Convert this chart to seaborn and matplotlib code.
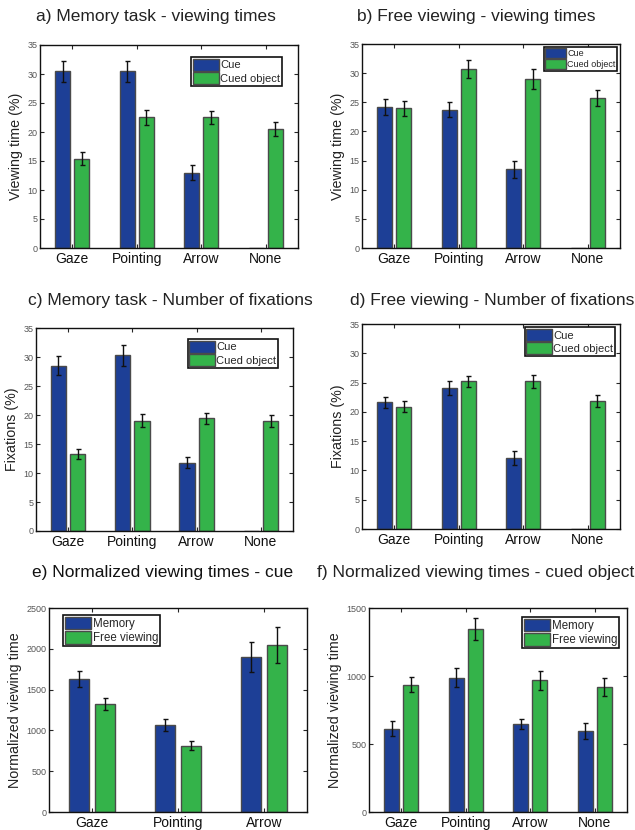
import numpy as np
import pandas as pd
import matplotlib
matplotlib.use("Agg")
import matplotlib.pyplot as plt
import seaborn as sns

# ---------------- data ----------------
cond4 = ["Gaze", "Pointing", "Arrow", "None"]
cond3 = ["Gaze", "Pointing", "Arrow"]

a_cue = [30.5, 30.5, 13.0, 0.0]
a_cue_err = [1.8, 1.8, 1.3, 0.0]
a_obj = [15.4, 22.5, 22.5, 20.5]
a_obj_err = [1.1, 1.3, 1.1, 1.2]

b_cue = [24.2, 23.7, 13.5, 0.0]
b_cue_err = [1.4, 1.3, 1.5, 0.0]
b_obj = [24.0, 30.7, 29.0, 25.7]
b_obj_err = [1.3, 1.5, 1.7, 1.4]

c_cue = [28.5, 30.3, 11.8, 0.0]
c_cue_err = [1.6, 1.8, 1.0, 0.0]
c_obj = [13.3, 19.0, 19.4, 19.0]
c_obj_err = [0.9, 1.1, 0.9, 1.0]

d_cue = [21.6, 24.0, 12.2, 0.0]
d_cue_err = [0.9, 1.2, 1.2, 0.0]
d_obj = [20.9, 25.2, 25.2, 21.8]
d_obj_err = [1.0, 1.0, 1.1, 1.0]

e_mem = [1634, 1070, 1900]
e_mem_err = [100, 75, 185]
e_free = [1319, 809, 2051]
e_free_err = [75, 55, 220]

f_mem = [613, 988, 645, 593]
f_mem_err = [55, 68, 36, 58]
f_free = [936, 1348, 968, 919]
f_free_err = [57, 80, 69, 65]

series_cue = ["Cue", "Cued object"]
series_task = ["Memory", "Free viewing"]

titles = [
    "a) Memory task - viewing times",
    "b) Free viewing - viewing times",
    "c) Memory task - Number of fixations",
    "d) Free viewing - Number of fixations",
    "e) Normalized viewing times - cue",
    "f) Normalized viewing times - cued object",
]

# ---------------- style ----------------
sns.set_theme(style="white")
plt.rcParams["font.family"] = ["Liberation Sans", "DejaVu Sans"]

BLUE = "#1d3f96"
GREEN = "#34b34a"

W, H = 635, 830
fig = plt.figure(figsize=(W / 100, H / 100), dpi=100)


def axes_px(l, r, t, b):
    return fig.add_axes([l / W, 1 - b / H, (r - l) / W, (b - t) / H])


def panel(ax, cats, v1, e1, v2, e2, names, ymax, yticks, ylabel,
          leg_loc, leg_anchor, leg_fs):
    df = pd.DataFrame({
        "cond": cats * 2,
        "series": [names[0]] * len(cats) + [names[1]] * len(cats),
        "value": list(v1) + list(v2),
    })
    sns.barplot(data=df, x="cond", y="value", hue="series",
                order=cats, hue_order=names,
                palette=[BLUE, GREEN], errorbar=None,
                width=0.6, gap=0.22, saturation=1,
                edgecolor="#4a4a4a", linewidth=1.0, ax=ax)
    for cont, errs in zip(ax.containers, [e1, e2]):
        xs, ys, es = [], [], []
        for p, e in zip(cont.patches, errs):
            if e > 0:
                xs.append(p.get_x() + p.get_width() / 2)
                ys.append(p.get_height())
                es.append(e)
        ax.errorbar(xs, ys, yerr=es, fmt="none", ecolor="#111111",
                    elinewidth=1.0, capsize=1.8, capthick=1.0, zorder=5)
    ax.set_xlim(-0.5, len(cats) - 0.5)
    ax.set_ylim(0, ymax)
    ax.set_yticks(yticks)
    ax.set_xlabel("")
    ax.set_ylabel(ylabel, fontsize=10.3, color="#222222", labelpad=3)
    ax.tick_params(axis="y", labelsize=6.5, labelcolor="#555555",
                   direction="in", length=3, right=True, left=True,
                   width=0.8, pad=2)
    ax.tick_params(axis="x", labelsize=10, labelcolor="#111111",
                   direction="in", length=3, top=True, bottom=True,
                   width=0.8, pad=3)
    for s in ax.spines.values():
        s.set_color("#111111")
        s.set_linewidth(1.0)
    handles, labels = ax.get_legend_handles_labels()
    if ax.get_legend() is not None:
        ax.get_legend().remove()
    leg = ax.legend(handles, labels, loc=leg_loc, bbox_to_anchor=leg_anchor,
                    fontsize=leg_fs, frameon=True, fancybox=False,
                    edgecolor="#111111", framealpha=1,
                    handlelength=2.3, handleheight=1.3, handletextpad=0.15,
                    labelspacing=0.12, borderpad=0.15, borderaxespad=0)
    leg.get_frame().set_linewidth(1.2)


yt35 = [0, 5, 10, 15, 20, 25, 30, 35]

ax_a = axes_px(40, 298, 45, 248)
panel(ax_a, cond4, a_cue, a_cue_err, a_obj, a_obj_err, series_cue, 35, yt35,
      "Viewing time (%)", "upper right", (0.938, 0.941), 8)

ax_b = axes_px(362, 620, 44, 248)
panel(ax_b, cond4, b_cue, b_cue_err, b_obj, b_obj_err, series_cue, 35, yt35,
      "Viewing time (%)", "upper right", (0.988, 0.985), 6.5)

ax_c = axes_px(36, 293, 328, 531)
panel(ax_c, cond4, c_cue, c_cue_err, c_obj, c_obj_err, series_cue, 35, yt35,
      "Fixations (%)", "upper right", (0.942, 0.946), 8)

ax_d = axes_px(362, 620, 324, 529)
panel(ax_d, cond4, d_cue, d_cue_err, d_obj, d_obj_err, series_cue, 35, yt35,
      "Fixations (%)", "upper right", (0.981, 0.985), 8)

ax_e = axes_px(49, 307, 608, 812)
panel(ax_e, cond3, e_mem, e_mem_err, e_free, e_free_err, series_task, 2500,
      [0, 500, 1000, 1500, 2000, 2500], "Normalized viewing time",
      "upper left", (0.054, 0.966), 8.3)

ax_f = axes_px(369, 627, 608, 812)
panel(ax_f, cond4, f_mem, f_mem_err, f_free, f_free_err, series_task, 1500,
      [0, 500, 1000, 1500], "Normalized viewing time",
      "upper right", (0.969, 0.956), 8.3)

# titles
title_pos = [(36, 17), (357, 17), (28, 300), (350, 300), (32, 572), (317, 572)]
for i, (t, (x, y)) in enumerate(zip(titles, title_pos)):
    fig.text(x / W, 1 - y / H, t, ha="left", va="center", fontsize=12.5,
             color="#111111" if i == 4 else "#222222")

fig.savefig("out.png", dpi=100)
